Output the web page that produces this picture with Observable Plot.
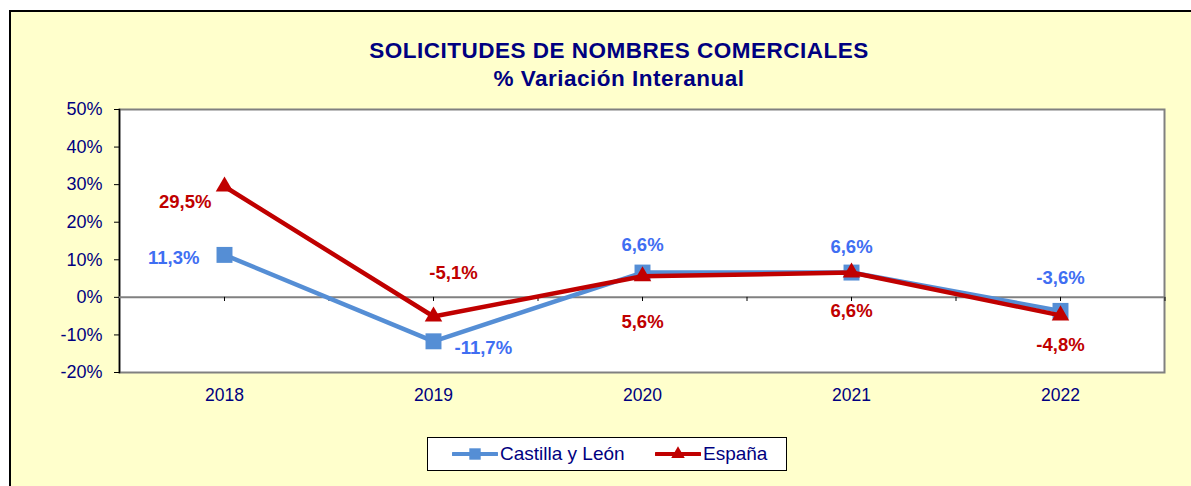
<!DOCTYPE html>
<html>
<head>
<meta charset="utf-8">
<script src="https://cdn.jsdelivr.net/npm/d3@7"></script>
<script src="https://cdn.jsdelivr.net/npm/@observablehq/plot@0.6"></script>
<style>
  body { margin: 0; background: #fff; font-family: "Liberation Sans", Arial, sans-serif; }
  #wrap { position: relative; width: 1191px; height: 486px; overflow: hidden; background: #fff; }
  #frame { position: absolute; left: 9px; top: 10px; width: 1200px; height: 500px; border: 2px solid #000; background: #FFFFCC; }
  #chart { position: absolute; left: 0; top: 0; }
  #title { position: absolute; left: 0; width: 1238px; top: 37px; text-align: center; color: #000080; font-weight: bold; font-size: 22.5px; letter-spacing: 0.5px; line-height: 28px; }
  #legend { position: absolute; left: 427px; top: 437px; width: 358px; height: 32px; border: 1px solid #000; background: #fff; color: #000080; font-size: 19px; }
  #legend .item { position: absolute; top: 0; height: 32px; display: flex; align-items: center; }
  #legend svg { display: block; }
</style>
</head>
<body>
<div id="wrap">
  <div id="frame"></div>
  <div id="chart"></div>
  <div id="title">SOLICITUDES DE NOMBRES COMERCIALES<br>% Variación Interanual</div>
  <div id="legend"></div>
</div>
<script>
const years = ["2018", "2019", "2020", "2021", "2022"];
const castillaLeon = [11.3, -11.7, 6.6, 6.6, -3.6];
const espana = [29.5, -5.1, 5.6, 6.6, -4.8];
const yTicks = [-20, -10, 0, 10, 20, 30, 40, 50];
const seriesNames = ["Castilla y León", "España"];

// label offsets (px) relative to each point, per series
const cylLabelOffsets = [[-25, 3, "end"], [21, 7, "start"], [0, -27, "middle"], [0, -25, "middle"], [0, -33, "middle"]];
const espLabelOffsets = [[-13, 16, "end"], [20, -43, "middle"], [0, 46, "middle"], [0, 39, "middle"], [0, 30, "middle"]];

const blueLine = "#558ED5";
const blueText = "#3F6EF2";
const red = "#C00000";
const navy = "#000080";

const W = 1191, H = 486;
const mL = 119, mR = 27, mT = 109, mB = 114;
const step = (W - mL - mR) / years.length;

const cyl = years.map((y, i) => ({year: y, v: castillaLeon[i], dx: cylLabelOffsets[i][0], dy: cylLabelOffsets[i][1], anchor: cylLabelOffsets[i][2]}));
const esp = years.map((y, i) => ({year: y, v: espana[i], dx: espLabelOffsets[i][0], dy: espLabelOffsets[i][1], anchor: espLabelOffsets[i][2]}));
const fmt = v => v.toFixed(1).replace(".", ",") + "%";

function labelMarks(data, color) {
  return data.map(d => Plot.text([d], {
    x: "year", y: "v", text: d => fmt(d.v),
    dx: d.dx, dy: d.dy, textAnchor: d.anchor,
    fill: color, fontWeight: "bold", fontSize: 18.5
  }));
}

const plot = Plot.plot({
  width: W, height: H,
  marginLeft: mL, marginRight: mR, marginTop: mT, marginBottom: mB,
  style: {background: "transparent", fontFamily: "'Liberation Sans', Arial, sans-serif"},
  x: {type: "point", domain: years, padding: 0.5, label: null},
  y: {domain: [-20, 50], label: null},
  marks: [
    Plot.frame({fill: "white", stroke: "#808080", strokeWidth: 2}),
    Plot.frame({anchor: "left", stroke: "#000", strokeWidth: 1.5}),
    Plot.axisY({ticks: yTicks, tickFormat: d => d + "%", tickSize: 5, tickPadding: 12, fontSize: 18, fill: navy, stroke: "#000", label: null}),
    Plot.axisX({anchor: "bottom", tickSize: 0, tickPadding: 16, fontSize: 17.5, fill: navy, label: null}),
    Plot.ruleY([0], {stroke: "#808080", strokeWidth: 2}),
    Plot.ruleX(years, {x: d => d, y1: 0, y2: -1.1, stroke: "#000", strokeWidth: 1}),
    Plot.ruleX(years, {x: d => d, y1: 0, y2: -1.1, dx: step / 2, stroke: "#000", strokeWidth: 1}),
    Plot.line(cyl, {x: "year", y: "v", stroke: blueLine, strokeWidth: 4.5}),
    Plot.dot(cyl, {x: "year", y: "v", symbol: "square", r: 9, fill: blueLine}),
    Plot.line(esp, {x: "year", y: "v", stroke: red, strokeWidth: 4.5}),
    Plot.dot(esp, {x: "year", y: "v", symbol: "triangle", r: 6.5, fill: red}),
    ...labelMarks(cyl, blueText),
    ...labelMarks(esp, red)
  ]
});
document.getElementById("chart").appendChild(plot);

// legend
const legend = document.getElementById("legend");
const items = [
  {name: seriesNames[0], color: blueLine, symbol: d3.symbolSquare, size: 130, left: 24},
  {name: seriesNames[1], color: red, symbol: d3.symbolTriangle, size: 80, left: 227}
];
items.forEach(it => {
  const div = document.createElement("div");
  div.className = "item";
  div.style.left = it.left + "px";
  const svg = d3.create("svg").attr("width", 46).attr("height", 32);
  svg.append("line").attr("x1", 1).attr("x2", 45).attr("y1", 16).attr("y2", 16).attr("stroke", it.color).attr("stroke-width", 4).attr("stroke-linecap", "round");
  svg.append("path").attr("d", d3.symbol(it.symbol, it.size)()).attr("transform", "translate(23,16)").attr("fill", it.color);
  div.appendChild(svg.node());
  const span = document.createElement("span");
  span.textContent = it.name;
  span.style.marginLeft = "2px";
  div.appendChild(span);
  legend.appendChild(div);
});
</script>
</body>
</html>
